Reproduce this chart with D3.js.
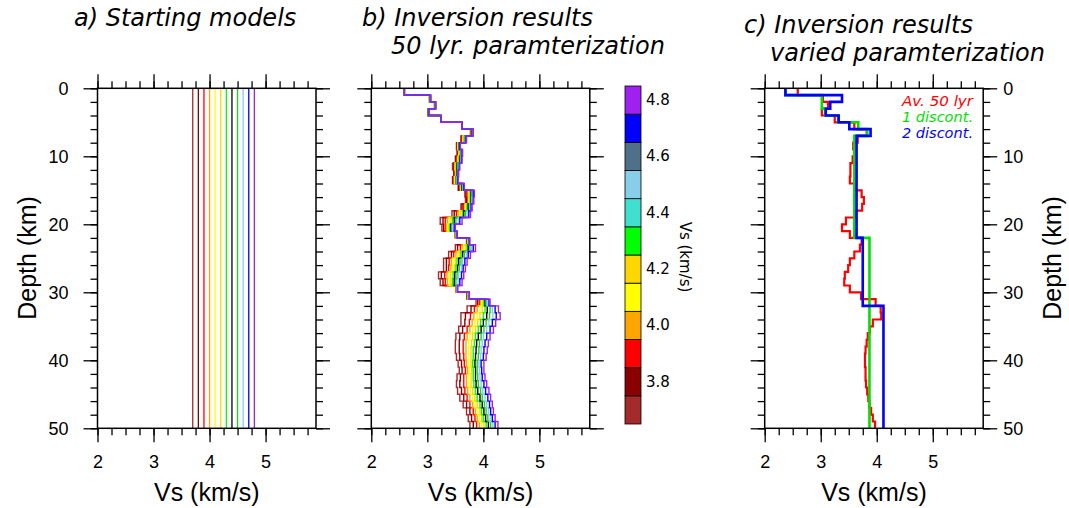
<!DOCTYPE html>
<html>
<head>
<meta charset="utf-8">
<script src="https://cdn.jsdelivr.net/npm/d3@7"></script>
<style>
  body { margin: 0; background: #fff; }
  text { fill: #000; }
</style>
</head>
<body>
<script>
// ---- data ----
const startVs = [3.7, 3.8, 3.9, 4.0, 4.1, 4.2, 4.3, 4.4, 4.5, 4.6, 4.7, 4.8];
const lineColors = ["#a52a2a", "#8b0000", "#ff0000", "#ffa500", "#ffff00", "#ffd700",
  "#00ff00", "#000000", "#1ed21e", "#87ceeb", "#0000ff", "#a020f0"];
const barColors = ["#a52a2a", "#8b0000", "#ff0000", "#ffa500", "#ffff00", "#ffd700",
  "#00ff00", "#40e0d0", "#87ceeb", "#4f7089", "#0000ff", "#a020f0"];
const barTicks = [3.8, 4.0, 4.2, 4.4, 4.6, 4.8];
const xTickLabels = [2, 3, 4, 5];
const yTickLabels = [0, 10, 20, 30, 40, 50];

// 50 one-km layers (top depth of each layer)
const layerTops = d3.range(0, 50, 1);

// inversion results, one per starting model (panel b)
const inv37 = [2.59,3.04,3.13,3.01,3.24,3.62,3.77,3.60,3.52,3.53, 3.50,3.45,3.47,3.45,3.55,3.67,3.68,3.60,3.44,3.23,
  3.26,3.50,3.70,3.50,3.38,3.29,3.29,3.20,3.23,3.51, 3.71,3.87,3.71,3.60,3.60,3.56,3.51,3.50,3.50,3.52,
  3.55,3.57,3.53,3.52,3.54,3.58,3.64,3.70,3.73,3.76];
const inv38 = [2.59,3.04,3.13,3.01,3.24,3.62,3.78,3.61,3.53,3.54, 3.51,3.47,3.48,3.46,3.56,3.69,3.70,3.62,3.48,3.28,
  3.29,3.50,3.71,3.54,3.43,3.34,3.34,3.25,3.28,3.51, 3.71,3.90,3.78,3.68,3.67,3.63,3.58,3.57,3.57,3.58,
  3.61,3.62,3.59,3.58,3.61,3.65,3.70,3.76,3.79,3.82];
const inv39 = [2.59,3.04,3.13,3.01,3.24,3.62,3.78,3.62,3.54,3.55, 3.53,3.48,3.49,3.47,3.58,3.71,3.72,3.65,3.52,3.32,
  3.32,3.51,3.71,3.59,3.47,3.39,3.38,3.31,3.32,3.52, 3.72,3.93,3.84,3.77,3.75,3.71,3.66,3.64,3.64,3.65,
  3.66,3.68,3.65,3.65,3.67,3.71,3.76,3.82,3.85,3.88];
const inv40 = [2.59,3.05,3.14,3.02,3.24,3.62,3.79,3.63,3.54,3.56, 3.54,3.49,3.50,3.48,3.59,3.73,3.73,3.67,3.55,3.36,
  3.34,3.51,3.72,3.62,3.51,3.43,3.42,3.35,3.36,3.52, 3.72,3.95,3.89,3.83,3.80,3.76,3.71,3.69,3.69,3.69,
  3.70,3.72,3.70,3.70,3.72,3.76,3.81,3.86,3.89,3.93];
const inv41 = [2.59,3.05,3.14,3.02,3.24,3.62,3.79,3.64,3.55,3.57, 3.55,3.50,3.51,3.49,3.60,3.74,3.74,3.68,3.58,3.39,
  3.36,3.51,3.72,3.65,3.54,3.46,3.45,3.38,3.39,3.52, 3.73,3.97,3.94,3.89,3.85,3.81,3.76,3.74,3.73,3.74,
  3.74,3.75,3.74,3.74,3.77,3.81,3.85,3.90,3.93,3.97];
const inv42 = [2.59,3.05,3.14,3.02,3.24,3.62,3.79,3.65,3.55,3.58, 3.56,3.51,3.51,3.50,3.60,3.75,3.75,3.70,3.60,3.42,
  3.38,3.51,3.73,3.68,3.57,3.50,3.48,3.42,3.42,3.52, 3.73,3.99,3.98,3.94,3.90,3.86,3.81,3.79,3.78,3.78,
  3.78,3.79,3.78,3.78,3.81,3.85,3.89,3.94,3.97,4.01];
const inv43 = [2.59,3.05,3.14,3.02,3.24,3.62,3.80,3.66,3.56,3.59, 3.57,3.52,3.52,3.51,3.61,3.77,3.77,3.71,3.63,3.45,
  3.40,3.52,3.73,3.71,3.60,3.53,3.51,3.46,3.45,3.53, 3.73,4.01,4.03,4.00,3.95,3.91,3.86,3.84,3.82,3.82,
  3.81,3.82,3.82,3.83,3.86,3.89,3.94,3.97,4.00,4.05];
const inv44 = [2.59,3.05,3.14,3.02,3.24,3.62,3.80,3.67,3.57,3.60, 3.58,3.53,3.53,3.52,3.62,3.78,3.78,3.73,3.65,3.48,
  3.42,3.52,3.74,3.73,3.63,3.56,3.54,3.49,3.48,3.53, 3.74,4.03,4.07,4.06,4.00,3.96,3.91,3.88,3.87,3.86,
  3.85,3.86,3.86,3.87,3.90,3.94,3.98,4.01,4.04,4.09];
const inv45 = [2.59,3.05,3.14,3.02,3.24,3.62,3.81,3.67,3.57,3.60, 3.59,3.54,3.54,3.52,3.63,3.79,3.79,3.75,3.68,3.51,
  3.44,3.52,3.74,3.76,3.66,3.60,3.57,3.53,3.51,3.53, 3.74,4.05,4.12,4.11,4.05,4.01,3.96,3.93,3.92,3.91,
  3.89,3.89,3.90,3.91,3.95,3.98,4.02,4.05,4.08,4.13];
const inv46 = [2.59,3.06,3.15,3.03,3.24,3.62,3.81,3.68,3.58,3.61, 3.60,3.56,3.54,3.53,3.64,3.81,3.80,3.76,3.71,3.55,
  3.45,3.52,3.75,3.79,3.70,3.63,3.61,3.56,3.55,3.53, 3.74,4.07,4.16,4.17,4.10,4.06,4.00,3.98,3.96,3.95,
  3.92,3.93,3.94,3.96,3.99,4.03,4.06,4.09,4.12,4.17];
const inv47 = [2.59,3.06,3.15,3.03,3.24,3.62,3.82,3.69,3.58,3.62, 3.61,3.57,3.55,3.54,3.65,3.82,3.82,3.78,3.74,3.58,
  3.48,3.53,3.75,3.82,3.73,3.67,3.64,3.61,3.58,3.54, 3.75,4.10,4.21,4.23,4.16,4.12,4.06,4.03,4.01,4.00,
  3.96,3.97,3.98,4.01,4.04,4.08,4.11,4.13,4.16,4.21];
const inv48 = [2.59,3.06,3.15,3.03,3.24,3.62,3.82,3.70,3.59,3.63, 3.62,3.58,3.56,3.55,3.66,3.84,3.83,3.80,3.77,3.62,
  3.50,3.53,3.76,3.86,3.77,3.71,3.68,3.65,3.62,3.54, 3.75,4.12,4.27,4.30,4.22,4.18,4.12,4.09,4.07,4.05,
  4.01,4.01,4.03,4.06,4.10,4.13,4.16,4.18,4.21,4.26];
const invModels = [inv37, inv38, inv39, inv40, inv41, inv42, inv43, inv44, inv45, inv46, inv47, inv48];

// panel c
const avg50 = [2.59,3.04,3.13,3.02,3.25,3.60,3.82,3.66,3.58,3.60, 3.57,3.53,3.53,3.52,3.60,3.73,3.77,3.74,3.63,3.45,
  3.38,3.52,3.73,3.70,3.60,3.52,3.49,3.43,3.42,3.52, 3.72,3.98,4.07,4.08,3.93,3.88,3.84,3.82,3.80,3.79,
  3.79,3.80,3.80,3.81,3.83,3.85,3.87,3.90,3.93,3.97];
const disc1Tops = [0, 1, 3, 4, 5, 6, 7, 22];
const disc1Vs = [2.37, 3.02, 3.08, 3.31, 3.67, 3.83, 3.60, 3.87];
const disc2Tops = [0, 1, 2, 3, 4, 5, 6, 7, 22, 32];
const disc2Vs = [2.37, 3.38, 3.17, 3.09, 3.32, 3.51, 3.89, 3.64, 3.75, 4.12];
const legendLabels = ["Av. 50 lyr", "1 discont.", "2 discont."];
const legendColors = ["#ff0000", "#00e000", "#0000ff"];

// ---- layout ----
const width = 1069, height = 508;
const panelW = 218.5, yTop = 88.3, yBottom = 428.3, maxDepth = 50;
const panelLeft = [97.5, 371.3, 764.7];
const sans = "Liberation Sans, Arial, Helvetica, sans-serif";
const dejavu = "DejaVu Sans, sans-serif";

const svg = d3.select("body").append("svg")
  .attr("width", width).attr("height", height);

const y = d3.scaleLinear().domain([0, maxDepth]).range([yTop, yBottom]);
const xScales = panelLeft.map((l) => d3.scaleLinear().domain([2, 5.9]).range([l, l + panelW]));

const xMinor = d3.range(2, 5.8, 0.25);
const yMinor = d3.range(0, 51, 2);

function stepPoints(tops, vs) {
  const pts = [];
  tops.forEach((t, i) => {
    const b = i < tops.length - 1 ? tops[i + 1] : maxDepth;
    pts.push([vs[i], t], [vs[i], b]);
  });
  return pts;
}

function frame(x, leftLabels, rightLabels) {
  const g = svg.append("g");
  const l = x.range()[0], r = x.range()[1];
  const add = (axis, tr) => {
    const a = g.append("g").attr("transform", tr).call(axis);
    a.select(".domain").remove();
    a.selectAll(".tick line").attr("stroke", "#000").attr("stroke-width", 1.3);
    a.selectAll("text").attr("font-family", sans).attr("font-size", 18).attr("fill", "#000");
    return a;
  };
  // x ticks, bottom and top
  add(d3.axisBottom(x).tickValues(xMinor).tickSize(7).tickSizeOuter(0).tickFormat(""), `translate(0,${yBottom})`);
  add(d3.axisBottom(x).tickValues(xTickLabels).tickSize(14).tickSizeOuter(0).tickPadding(13)
    .tickFormat(d3.format("d")), `translate(0,${yBottom})`);
  add(d3.axisTop(x).tickValues(xMinor).tickSize(7).tickSizeOuter(0).tickFormat(""), `translate(0,${yTop})`);
  add(d3.axisTop(x).tickValues(xTickLabels).tickSize(14).tickSizeOuter(0).tickFormat(""), `translate(0,${yTop})`);
  // y ticks, left and right
  add(d3.axisLeft(y).tickValues(yMinor).tickSize(7).tickSizeOuter(0).tickFormat(""), `translate(${l},0)`);
  add(d3.axisLeft(y).tickValues(yTickLabels).tickSize(14).tickSizeOuter(0).tickPadding(15)
    .tickFormat(leftLabels ? d3.format("d") : ""), `translate(${l},0)`);
  add(d3.axisRight(y).tickValues(yMinor).tickSize(7).tickSizeOuter(0).tickFormat(""), `translate(${r},0)`);
  add(d3.axisRight(y).tickValues(yTickLabels).tickSize(14).tickSizeOuter(0).tickPadding(6)
    .tickFormat(rightLabels ? d3.format("d") : ""), `translate(${r},0)`);

  g.append("rect")
    .attr("x", l).attr("y", yTop).attr("width", r - l).attr("height", yBottom - yTop)
    .attr("fill", "none").attr("stroke", "#000").attr("stroke-width", 1.5);

  g.append("text")
    .attr("x", (l + r) / 2).attr("y", 501)
    .attr("text-anchor", "middle")
    .attr("font-family", sans).attr("font-size", 25)
    .text("Vs (km/s)");
  return g;
}

// ---- panel a: starting models ----
const xa = xScales[0];
svg.append("g").selectAll("line")
  .data(startVs)
  .enter()
  .append("line")
  .attr("x1", (d) => xa(d)).attr("x2", (d) => xa(d))
  .attr("y1", y(0)).attr("y2", y(maxDepth))
  .attr("stroke", (d, i) => lineColors[i])
  .attr("stroke-width", 1.3);
frame(xa, true, false);

// ---- panel b: inversion results ----
const xb = xScales[1];
const lineB = d3.line().x((d) => xb(d[0])).y((d) => y(d[1]));
svg.append("g").selectAll("path")
  .data(invModels)
  .enter()
  .append("path")
  .attr("d", (d) => lineB(stepPoints(layerTops, d)))
  .attr("fill", "none")
  .attr("stroke", (d, i) => lineColors[i])
  .attr("stroke-width", 1.4)
  .attr("stroke-linejoin", "miter");
frame(xb, false, false);

// colorbar
const cb = d3.scaleBand().domain(startVs.slice().reverse()).range([86, 424]);
const cbg = svg.append("g");
cbg.selectAll("rect")
  .data(startVs)
  .enter()
  .append("rect")
  .attr("x", 625).attr("width", 16)
  .attr("y", (d) => cb(d)).attr("height", cb.bandwidth())
  .attr("fill", (d, i) => barColors[i])
  .attr("stroke", "#000").attr("stroke-width", 0.8);
const cbAxis = cbg.append("g").attr("transform", "translate(641,0)")
  .call(d3.axisRight(cb).tickValues(barTicks).tickSize(0).tickPadding(5).tickFormat(d3.format(".1f")));
cbAxis.select(".domain").remove();
cbAxis.selectAll("text").attr("font-family", dejavu).attr("font-size", 15).attr("fill", "#222");
cbg.append("text")
  .attr("transform", "translate(680,257) rotate(90)")
  .attr("text-anchor", "middle")
  .attr("font-family", dejavu).attr("font-size", 15)
  .text("Vs (km/s)");

// ---- panel c: varied parameterization ----
const xc = xScales[2];
const lineC = d3.line().x((d) => xc(d[0])).y((d) => y(d[1]));
const curves = [
  { pts: stepPoints(layerTops, avg50), color: legendColors[0], w: 2.2 },
  { pts: stepPoints(disc1Tops, disc1Vs), color: legendColors[1], w: 2.6 },
  { pts: stepPoints(disc2Tops, disc2Vs), color: legendColors[2], w: 2.6 },
];
svg.append("g").selectAll("path")
  .data(curves)
  .enter()
  .append("path")
  .attr("d", (d) => lineC(d.pts))
  .attr("fill", "none")
  .attr("stroke", (d) => d.color)
  .attr("stroke-width", (d) => d.w);
frame(xc, false, true);

svg.append("g").selectAll("text")
  .data(legendLabels)
  .enter()
  .append("text")
  .attr("x", 973)
  .attr("y", (d, i) => 106 + i * 16)
  .attr("text-anchor", "end")
  .attr("font-family", dejavu).attr("font-style", "italic").attr("font-size", 13.5)
  .attr("textLength", 71).attr("lengthAdjust", "spacingAndGlyphs")
  .style("fill", (d, i) => legendColors[i])
  .text((d) => d);

// ---- axis titles ----
svg.append("text")
  .attr("transform", "translate(36,258) rotate(-90)")
  .attr("text-anchor", "middle")
  .attr("font-family", sans).attr("font-size", 25)
  .text("Depth (km)");
svg.append("text")
  .attr("transform", "translate(1061,258) rotate(-90)")
  .attr("text-anchor", "middle")
  .attr("font-family", sans).attr("font-size", 25)
  .text("Depth (km)");

// ---- panel titles ----
const titles = [
  { t: "a) Starting models", x: 74, y: 26 },
  { t: "b) Inversion results", x: 362, y: 26 },
  { t: "50 lyr. paramterization", x: 391, y: 54 },
  { t: "c) Inversion results", x: 744, y: 33 },
  { t: "varied paramterization", x: 770, y: 61 },
];
svg.append("g").selectAll("text")
  .data(titles)
  .enter()
  .append("text")
  .attr("x", (d) => d.x).attr("y", (d) => d.y)
  .attr("font-family", dejavu).attr("font-style", "italic").attr("font-size", 24)
  .text((d) => d.t);
</script>
</body>
</html>
